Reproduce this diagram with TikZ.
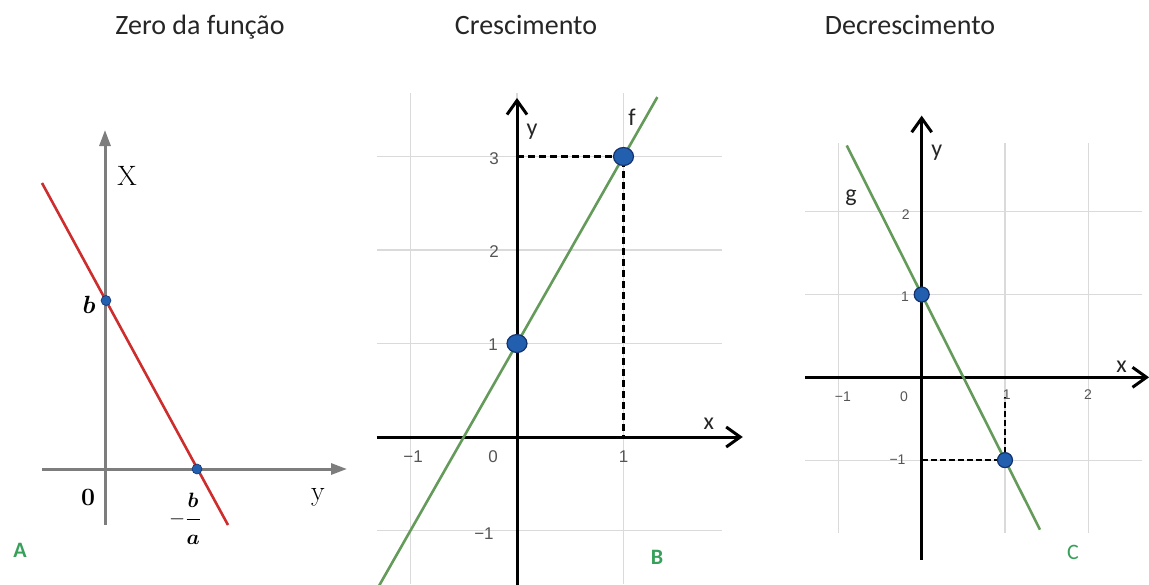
\documentclass[tikz,border=0pt]{standalone}
\usepackage{amsmath}
\usepackage{fontspec}
\newfontfamily\calibri{Carlito}
\newfontfamily\arial{Liberation Sans}
\usetikzlibrary{arrows.meta}

\definecolor{cinzaeixo}{RGB}{125,125,125}
\definecolor{vermelho}{RGB}{205,45,45}
\definecolor{verdereta}{RGB}{100,155,90}
\definecolor{verdeletra}{RGB}{55,160,90}
\definecolor{azulponto}{RGB}{35,95,175}
\definecolor{azulborda}{RGB}{20,50,110}
\definecolor{grade}{RGB}{218,218,218}
\definecolor{cinzamarca}{RGB}{85,85,85}

\tikzset{
  titulo/.style={font=\calibri\fontsize{28}{32}\selectfont, text=black!85, anchor=base},
  rotulo/.style={font=\calibri\bfseries\fontsize{22}{24}\selectfont, text=verdeletra},
  marca/.style={font=\arial\fontsize{17}{19}\selectfont, text=cinzamarca},
  marcapeq/.style={font=\arial\fontsize{14}{16}\selectfont, text=cinzamarca},
  nomeeixo/.style={font=\calibri\fontsize{24}{26}\selectfont, text=black!85},
  ponto/.style={fill=azulponto, draw=azulborda, line width=1.2pt},
  setaeixo/.style={black, line width=3pt, -{Straight Barb[length=14pt,width=20pt]}},
}

\begin{document}
\begin{tikzpicture}[x=1pt, y=-1pt]
        \useasboundingbox (0,0) rectangle (1149,584);

        % Titulos
        \node[titulo] (tituloA) at (200,34) {Zero da função};
        \node[titulo] (tituloB) at (526,34) {Crescimento};
        \node[titulo] (tituloC) at (910,34) {Decrescimento};

        % A: zero da funcao
        \draw[cinzaeixo, line width=3pt, -{Triangle[length=16pt,width=11pt]}] (105,525) -- (105,130);
        \draw[cinzaeixo, line width=3pt, -{Triangle[length=16pt,width=11pt]}] (42,469) -- (347,469);
        \draw[vermelho, line width=2.6pt] (42,183) -- (228,525);
        \coordinate (pb) at (106,300.5);
        \coordinate (pz) at (197,469);
        \fill[ponto, line width=0.6pt] (pb) circle (5pt);
        \fill[ponto, line width=0.6pt] (pz) circle (5pt);
        \node[font=\fontsize{28}{30}\selectfont] (nomeX) at (127,176) {X};
        \node[font=\fontsize{28}{30}\selectfont] (nomeY) at (318,497) {y};
        \node[font=\fontsize{24}{28}\selectfont] (rb) at (89,305) {$\boldsymbol{b}$};
        \node[font=\fontsize{24}{28}\selectfont] (r0) at (88,497) {$\boldsymbol{0}$};
        \node[font=\fontsize{22}{26}\selectfont] (rba) at (185,519) {$-\dfrac{\boldsymbol{b}\rule[-9pt]{0pt}{1pt}}{\rule{0pt}{22pt}\boldsymbol{a}}$};
        \node[rotulo] (letraA) at (20,550) {A};

        % B: funcao crescente
        \begin{scope}[shift={(517,437)}, x=106.5pt, y=93.5pt]
          \draw[grade, line width=1.2pt, step=1] (-1.315,-1.57) grid (1.925,3.68);
          \draw[setaeixo] (-1.315,0) -- (2.12,0);
          \draw[setaeixo] (0,-1.6) -- (0,3.626);
          \draw[verdereta, line width=2.6pt] plot[domain=-1.32:1.318] (\x, {2*\x+1});
          \coordinate (b1) at (0,1);
          \coordinate (b3) at (1,3);
          \draw[dashed, line width=2.2pt, dash pattern=on 7pt off 4pt] (0,3) -- (b3) -- (1,0);
          \fill[ponto] (b1) ellipse (10pt and 9pt);
          \fill[ponto] (b3) ellipse (10pt and 9pt);
          \node[nomeeixo] (nomexB) at (1.80,0.14) {x};
          \node[nomeeixo] (nomeyB) at (0.141,3.27) {y};
          \node[nomeeixo] (nomef) at (1.08,3.42) {f};
          \node[marca] (mB3) at (-0.215,2.98) {3};
          \node[marca] (mB2) at (-0.215,1.98) {2};
          \node[marca] (mB1) at (-0.225,0.985) {1};
          \node[marca] (mBm1) at (-0.31,-1.03) {−1};
          \node[marca] (mBxm1) at (-0.976,-0.215) {−1};
          \node[marca] (mBx0) at (-0.225,-0.215) {0};
          \node[marca] (mBx1) at (1,-0.215) {1};
          \node[rotulo] (letraB) at (1.315,-1.283) {B};
        \end{scope}

        % C: funcao decrescente
        \begin{scope}[shift={(921.7,377.3)}, x=83.3pt, y=82.8pt]
          \draw[grade, line width=1.2pt, step=1] (-1.40,-1.88) grid (2.645,2.83);
          \draw[setaeixo] (-1.40,0) -- (2.73,0);
          \draw[setaeixo] (0,-2.206) -- (0,3.16);
          \draw[verdereta, line width=2.6pt] plot[domain=-0.9:1.42] (\x, {-2*\x+1});
          \coordinate (c1) at (0,1);
          \coordinate (cm1) at (1,-1);
          \draw[dashed, line width=2.2pt, dash pattern=on 6pt off 3pt] (0,-1) -- (cm1) -- (1,-0.24);
          \fill[ponto] (c1) circle (7.5pt);
          \fill[ponto] (cm1) circle (7.5pt);
          \node[nomeeixo] (nomexC) at (2.40,0.13) {x};
          \node[nomeeixo] (nomeyC) at (0.18,2.71) {y};
          \node[nomeeixo] (nomeg) at (-0.85,2.17) {g};
          \node[marcapeq] (mC2) at (-0.19,1.97) {2};
          \node[marcapeq] (mC1) at (-0.2,0.97) {1};
          \node[marcapeq] (mCm1) at (-0.29,-1.0) {−1};
          \node[marcapeq] (mCxm1) at (-0.946,-0.237) {−1};
          \node[marcapeq] (mCx0) at (-0.213,-0.237) {0};
          \node[marcapeq] (mCx1) at (1.02,-0.213) {1};
          \node[marcapeq] (mCx2) at (1.995,-0.213) {2};
          \node[rotulo, font=\calibri\fontsize{22}{24}\selectfont] (letraC) at (1.817,-2.11) {C};
        \end{scope}
    \end{tikzpicture}
\end{document}
